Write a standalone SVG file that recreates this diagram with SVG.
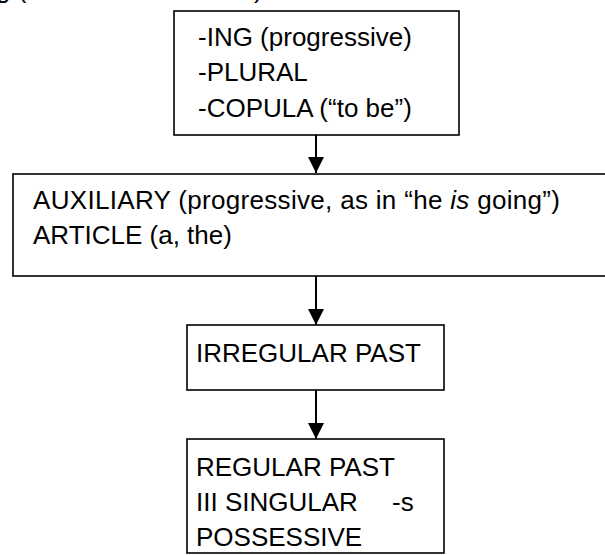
<svg xmlns="http://www.w3.org/2000/svg" width="605" height="555" viewBox="0 0 605 555">
  <style>
    .box { fill: #ffffff; stroke: #000000; stroke-width: 1.6; }
    .lbl { font-family: "Liberation Sans", Arial, sans-serif; font-size: 26px; fill: #000000; }
    .edge { stroke: #000000; stroke-width: 2; fill: none; }
  </style>
  <defs>
    <marker id="arrow" markerUnits="userSpaceOnUse" markerWidth="18" markerHeight="16" refX="16" refY="8" orient="auto">
      <path d="M0,0 L16,8 L0,16 Z" fill="#000000"/>
    </marker>
  </defs>

  <!-- text running in from above the frame -->
  <text class="lbl" x="-4" y="-2">g (</text>
  <text class="lbl" x="254" y="-2">)</text>

  <g id="connectors">
    <line class="edge" x1="316" y1="135" x2="316" y2="173" marker-end="url(#arrow)"/>
    <line class="edge" x1="316" y1="276" x2="316" y2="325" marker-end="url(#arrow)"/>
    <line class="edge" x1="316" y1="390" x2="316" y2="439" marker-end="url(#arrow)"/>
  </g>

  <g id="stage1">
    <rect class="box" x="174" y="11" width="285" height="124"/>
    <text class="lbl" x="198" y="46">-ING (progressive)</text>
    <text class="lbl" x="198" y="81">-PLURAL</text>
    <text class="lbl" x="198" y="117">-COPULA (“to be”)</text>
  </g>

  <g id="stage2">
    <rect class="box" x="13" y="174" width="600" height="102"/>
    <text class="lbl" x="33" y="209" textLength="527" lengthAdjust="spacing">AUXILIARY (progressive, as in “he <tspan font-style="italic">is</tspan> going”)</text>
    <text class="lbl" x="33" y="244">ARTICLE (a, the)</text>
  </g>

  <g id="stage3">
    <rect class="box" x="187" y="325" width="257" height="65"/>
    <text class="lbl" x="196" y="362">IRREGULAR PAST</text>
  </g>

  <g id="stage4">
    <rect class="box" x="187" y="439" width="257" height="114"/>
    <text class="lbl" x="196" y="476">REGULAR PAST</text>
    <text class="lbl" x="196" y="511">III SINGULAR<tspan x="392">-s</tspan></text>
    <text class="lbl" x="196" y="546">POSSESSIVE</text>
  </g>
</svg>
